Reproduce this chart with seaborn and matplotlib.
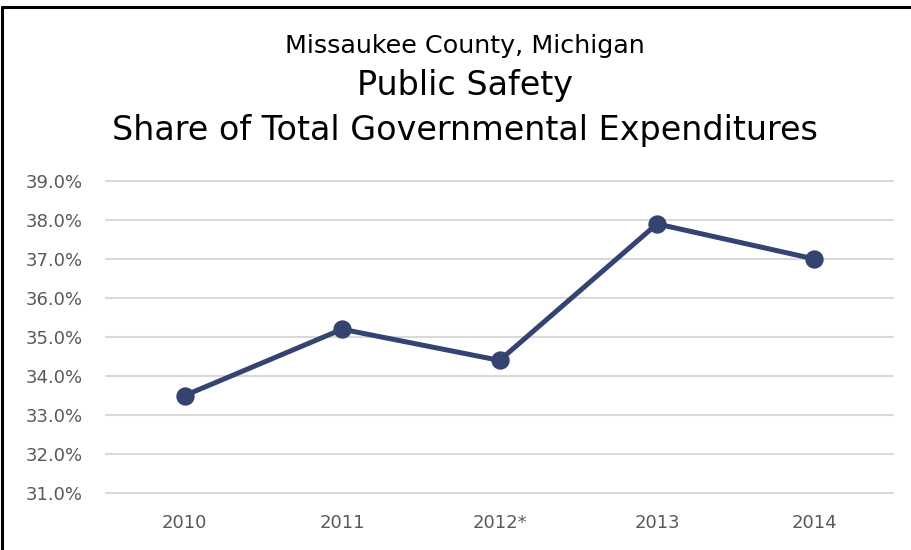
import matplotlib
matplotlib.use("Agg")
import matplotlib.pyplot as plt
import seaborn as sns
import pandas as pd
from matplotlib.ticker import FuncFormatter
from matplotlib.lines import Line2D

# data
years = ["2010", "2011", "2012*", "2013", "2014"]
share = [33.5, 35.2, 34.4, 37.9, 37.0]

df = pd.DataFrame({"year": years, "share": share})

sns.set_theme(style="white")
plt.rcParams['font.family'] = ['DejaVu Sans']

fig = plt.figure(figsize=(9.11, 5.5), dpi=100)
ax = fig.add_axes([0.1164, 0.1036, 0.864, 0.5673])

sns.pointplot(data=df, x="year", y="share", order=years, color="#354370",
              errorbar=None, markersize=10.5, linewidth=3.6, ax=ax)

ax.set_ylim(31, 39)
ax.set_xlim(-0.5, 4.5)
ax.set_yticks(range(31, 40))
ax.yaxis.set_major_formatter(FuncFormatter(lambda v, p: f"{v:.1f}%"))
ax.grid(axis="y", color="#d9d9d9", linewidth=1.5)
ax.set_axisbelow(True)
for gl in ax.yaxis.get_gridlines():
    gl.set_clip_on(False)
for s in ax.spines.values():
    s.set_visible(False)
ax.tick_params(axis="both", length=0, labelsize=13, labelcolor="#595959")
ax.tick_params(axis="y", pad=17)
ax.tick_params(axis="x", pad=15)
ax.set_xlabel("")
ax.set_ylabel("")

fig.text(0.51, 0.916, "Missaukee County, Michigan", ha="center", va="center",
         fontsize=18.3, color="black")
fig.text(0.51, 0.845, "Public Safety", ha="center", va="center",
         fontsize=24, color="black")
fig.text(0.51, 0.762, "Share of Total Governmental Expenditures", ha="center",
         va="center", fontsize=24, color="black")

# frame at top and left like the screenshot crop
fig.add_artist(Line2D([0.002, 0.002], [0, 0.988], transform=fig.transFigure,
                      color="black", linewidth=2.2))
fig.add_artist(Line2D([0.002, 1.0], [0.988, 0.988], transform=fig.transFigure,
                      color="black", linewidth=2.2))

plt.savefig("out.png", dpi=100)
plt.close()
